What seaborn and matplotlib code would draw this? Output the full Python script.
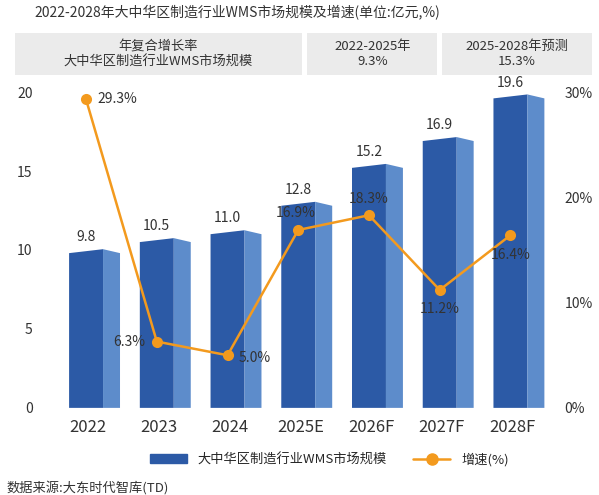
import matplotlib.pyplot as plt
import matplotlib.patches as mpatches
from matplotlib.lines import Line2D
import seaborn as sns
import pandas as pd
import numpy as np

years = ['2022', '2023', '2024', '2025E', '2026F', '2027F', '2028F']
market = [9.8, 10.5, 11.0, 12.8, 15.2, 16.9, 19.6]
growth = [29.3, 6.3, 5.0, 16.9, 18.3, 11.2, 16.4]
growth_offsets = [(8, 0), (-8, 0), (8, -2), (-2, 12), (0, 12), (0, -14), (0, -14)]
growth_align = ['left', 'right', 'left', 'center', 'center', 'center', 'center']

sns.set_theme(style='white')
plt.rcParams['font.family'] = ['Noto Sans CJK SC', 'DejaVu Sans']

front = '#2C5AA6'
side = '#5D8CCB'
orange = '#F39A1E'
text_c = '#333333'

fig = plt.figure(figsize=(5.99, 4.95), dpi=100)
ax = fig.add_axes([0.087, 0.176, 0.823, 0.638])

df = pd.DataFrame({'year': years, 'market': market})
sns.barplot(data=df, x='year', y='market', color=front, width=0.48, ax=ax, alpha=0)

# 3D-looking bars from the data values
for i, v in enumerate(market):
    l, m, r = i - 0.27, i + 0.21, i + 0.45
    t = 0.25
    ax.add_patch(mpatches.Polygon([(l, 0), (l, v), (m, v + t), (m, 0)], closed=True, color=front, lw=0))
    ax.add_patch(mpatches.Polygon([(m, 0), (m, v + t), (r, v), (r, 0)], closed=True, color=side, lw=0))
    ax.text(i - 0.03, v + 0.55, f'{v:.1f}', ha='center', va='bottom', fontsize=10, color=text_c)

ax.set_xlim(-0.51, 6.46)
ax.set_ylim(0, 20)
ax.set_yticks([0, 5, 10, 15, 20])
ax.set_xlabel('')
ax.set_ylabel('')
ax.tick_params(axis='x', labelsize=12, colors=text_c, pad=8, length=0)
ax.tick_params(axis='y', labelsize=10, colors=text_c, pad=14, length=0)
sns.despine(ax=ax, left=True, bottom=True)

ax2 = ax.twinx()
sns.lineplot(x=np.arange(len(years)) - 0.03, y=growth, color=orange, lw=1.8,
             marker='o', markersize=8, markeredgewidth=0, ax=ax2)
for i, g in enumerate(growth):
    ax2.annotate(f'{g:.1f}%', (i - 0.03, g), xytext=growth_offsets[i], textcoords='offset points',
                 ha=growth_align[i], va='center', fontsize=10, color=text_c)
ax2.set_ylim(0, 30)
ax2.set_yticks([0, 10, 20, 30])
ax2.set_yticklabels(['0%', '10%', '20%', '30%'])
ax2.tick_params(axis='y', labelsize=10, colors=text_c, pad=14, length=0)
for s in ax2.spines.values():
    s.set_visible(False)

# title and summary table
fig.text(0.058, 0.975, '2022-2028年大中华区制造行业WMS市场规模及增速(单位:亿元,%)',
         fontsize=10, color=text_c, va='center')
cells = [(0.025, 0.504, '年复合增长率\n大中华区制造行业WMS市场规模'),
         (0.513, 0.73, '2022-2025年\n9.3%'),
         (0.738, 0.988, '2025-2028年预测\n15.3%')]
for x0, x1, txt in cells:
    fig.patches.append(mpatches.Rectangle((x0, 0.848), x1 - x0, 0.085, transform=fig.transFigure,
                                          color='#EBEBEB', lw=0))
    fig.text((x0 + x1) / 2, 0.89, txt, ha='center', va='center', fontsize=9.5,
             color=text_c, linespacing=1.2)

handles = [mpatches.Patch(color=front, label='大中华区制造行业WMS市场规模'),
           Line2D([0], [0], color=orange, lw=1.8, marker='o', markersize=8, label='增速(%)')]
fig.legend(handles=handles, loc='center', bbox_to_anchor=(0.55, 0.072), ncol=2, frameon=False,
           fontsize=9.5, handlelength=2.8, columnspacing=2)
fig.text(0.01, 0.015, '数据来源:大东时代智库(TD)', fontsize=9.5, color=text_c, va='center')

fig.savefig('out.png', dpi=100)
